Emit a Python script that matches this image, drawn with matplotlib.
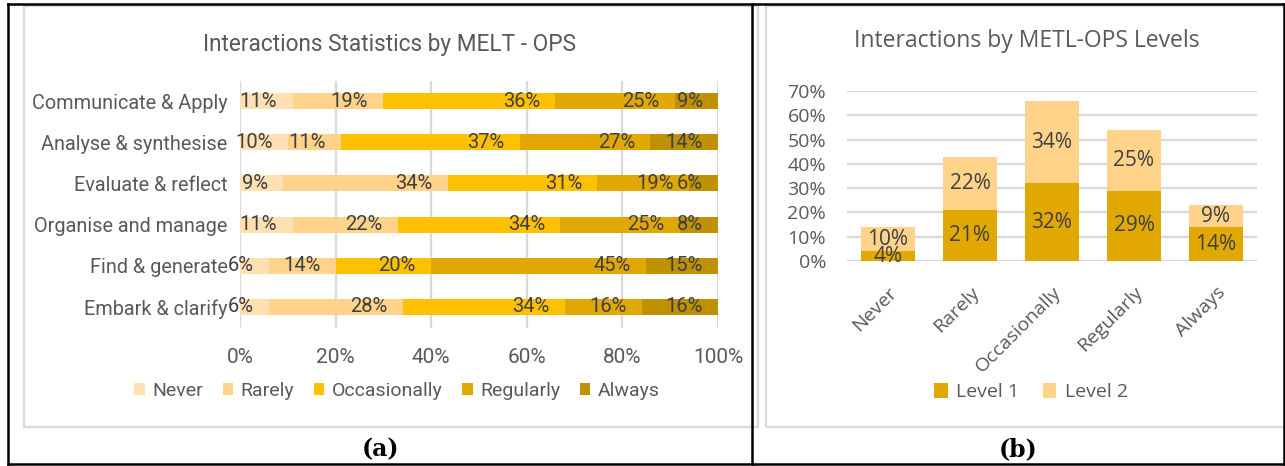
import numpy as np
import matplotlib
matplotlib.use("Agg")
import matplotlib.pyplot as plt
from matplotlib.patches import Patch, Rectangle
from matplotlib.lines import Line2D
from matplotlib.transforms import ScaledTranslation

# ---- data -------------------------------------------------------------
skills = ["Communicate & Apply", "Analyse & synthesise", "Evaluate & reflect",
          "Organise and manage", "Find & generate", "Embark & clarify"]
frequency = ["Never", "Rarely", "Occasionally", "Regularly", "Always"]

never = [11, 10, 9, 11, 6, 6]
rarely = [19, 11, 34, 22, 14, 28]
occasionally = [36, 37, 31, 34, 20, 34]
regularly = [25, 27, 19, 25, 45, 16]
always = [9, 14, 6, 8, 15, 16]

level_names = ["Level 1", "Level 2"]
level1 = [4, 21, 32, 29, 14]
level2 = [10, 22, 34, 25, 9]

x_ticks_a = [0, 20, 40, 60, 80, 100]
y_ticks_b = [0, 10, 20, 30, 40, 50, 60, 70]

# ---- style ------------------------------------------------------------
freq_colors = ["#FFE0B2", "#FFD38A", "#FFC000", "#E0A800", "#BF9000"]
level_colors = ["#E0A800", "#FFD38A"]
label_gray = "#595959"
value_gray = "#404040"
grid_gray = "#D9D9D9"

font_a = "Roboto"
font_b = "Open Sans"

W, H = 1285, 466
fig = plt.figure(figsize=(W / 100, H / 100), dpi=100)


def fx(px):
    return px / W


def fy(py):
    return 1 - py / H


# ---- frames: outer table and chart borders -----------------------------
for (x0, y0, x1, y1) in [(24, 6, 758, 427), (766, 6, 1290, 427)]:
    fig.add_artist(Rectangle((fx(x0), fy(y1)), fx(x1) - fx(x0), fy(y0) - fy(y1),
                             transform=fig.transFigure, fill=False,
                             edgecolor=grid_gray, linewidth=1.6))
black_lines = [((8, 4), (1284, 4)), ((8, 464), (1284, 464)),
               ((8, 4), (8, 464)), ((752, 4), (752, 464)), ((1284, 4), (1284, 464))]
for (xa, ya), (xb, yb) in black_lines:
    fig.add_artist(Line2D([fx(xa), fx(xb)], [fy(ya), fy(yb)], transform=fig.transFigure,
                          color="black", linewidth=1.8, solid_capstyle="projecting"))

# ---- panel (a): 100% stacked horizontal bars ---------------------------
axA = fig.add_axes([fx(240), fy(327.5), 478 / W, 247 / H])
series = np.array([never, rarely, occasionally, regularly, always], dtype=float)
totals = series.sum(axis=0)
ypos = np.arange(len(skills))
left = np.zeros(len(skills))
for name, color, vals in zip(frequency, freq_colors, series):
    frac = vals / totals
    bars = axA.barh(ypos, frac, left=left, height=0.39, color=color, label=name, zorder=2)
    for rect, v in zip(bars, vals):
        axA.annotate(f"{int(v)}%", xy=(rect.get_x() + rect.get_width(), rect.get_y() + rect.get_height() / 2),
                     xytext=(-11, 0), textcoords="offset points", ha="right", va="center",
                     fontsize=14.5, family=font_a, color=value_gray, zorder=3)
    left += frac

axA.set_xlim(0, 1)
axA.set_ylim(len(skills) - 0.5, -0.5)
axA.set_yticks(ypos)
axA.set_yticklabels(skills, fontsize=14.3, family=font_a, color=label_gray)
axA.set_xticks([t / 100 for t in x_ticks_a])
axA.set_xticklabels([f"{t}%" for t in x_ticks_a], fontsize=15, family=font_a, color=label_gray)
axA.tick_params(axis="both", length=0)
axA.tick_params(axis="y", pad=9)
axA.tick_params(axis="x", pad=15)
axA.grid(axis="x", color=grid_gray, linewidth=1.6)
axA.set_axisbelow(True)
for s in axA.spines.values():
    s.set_visible(False)

fig.text(fx(390), fy(44), "Interactions Statistics by MELT - OPS", ha="center", va="center",
         fontsize=16.3, family=font_a, color=label_gray)

handlesA = [Patch(facecolor=c, edgecolor="none") for c in freq_colors]
legA = fig.legend(handlesA, frequency, loc="center", bbox_to_anchor=(fx(397), fy(391)), ncol=5,
                  frameon=False, handlelength=0.55, handleheight=0.6, handletextpad=0.38,
                  columnspacing=1.0, prop={"family": font_a, "size": 14})
for t in legA.get_texts():
    t.set_color(label_gray)

# ---- panel (b): stacked columns by level -------------------------------
axB = fig.add_axes([fx(847), fy(261), 410 / W, 170 / H])
xpos = np.arange(len(frequency))
bottom = np.zeros(len(frequency))
for name, color, vals in zip(level_names, level_colors, [level1, level2]):
    vals = np.array(vals, dtype=float)
    bars = axB.bar(xpos, vals / 100, bottom=bottom, width=0.65, color=color, label=name, zorder=2)
    for rect, v in zip(bars, vals):
        axB.text(rect.get_x() + rect.get_width() / 2, rect.get_y() + rect.get_height() / 2,
                 f"{int(v)}%", ha="center", va="center", fontsize=15, family=font_b,
                 color=value_gray, zorder=3)
    bottom += vals / 100

axB.set_xlim(-0.5, len(frequency) - 0.5)
axB.set_ylim(0, 0.70)
axB.set_yticks([t / 100 for t in y_ticks_b])
axB.set_yticklabels([f"{t}%" for t in y_ticks_b], fontsize=14, family=font_b, color=label_gray)
axB.set_xticks(xpos)
axB.set_xticklabels(frequency, rotation=45, ha="right", rotation_mode="anchor",
                    fontsize=14, family=font_b, color=label_gray)
shift = ScaledTranslation(-6 / 100, 0, fig.dpi_scale_trans)
for lbl in axB.get_xticklabels():
    lbl.set_transform(lbl.get_transform() + shift)
axB.tick_params(axis="both", length=0)
axB.tick_params(axis="y", pad=15)
axB.tick_params(axis="x", pad=16)
axB.grid(axis="y", color=grid_gray, linewidth=1.6)
axB.set_axisbelow(True)
for s in axB.spines.values():
    s.set_visible(False)

fig.text(fx(1027), fy(41), "Interactions by METL-OPS Levels", ha="center", va="center",
         fontsize=16.5, family=font_b, color=label_gray)

handlesB = [Patch(facecolor=c, edgecolor="none") for c in level_colors]
legB = fig.legend(handlesB, level_names, loc="center", bbox_to_anchor=(fx(1031), fy(392)), ncol=2,
                  frameon=False, handlelength=0.7, handleheight=0.8, handletextpad=0.45,
                  columnspacing=1.2, prop={"family": font_b, "size": 14})
for t in legB.get_texts():
    t.set_color(label_gray)

# ---- captions ----------------------------------------------------------
fig.text(fx(380), fy(449), "(a)", ha="center", va="center", fontsize=17,
         family="DejaVu Serif", fontweight="bold", color="black")
fig.text(fx(1018), fy(449), "(b)", ha="center", va="center", fontsize=17,
         family="DejaVu Serif", fontweight="bold", color="black")

fig.savefig("out.png", dpi=100)
